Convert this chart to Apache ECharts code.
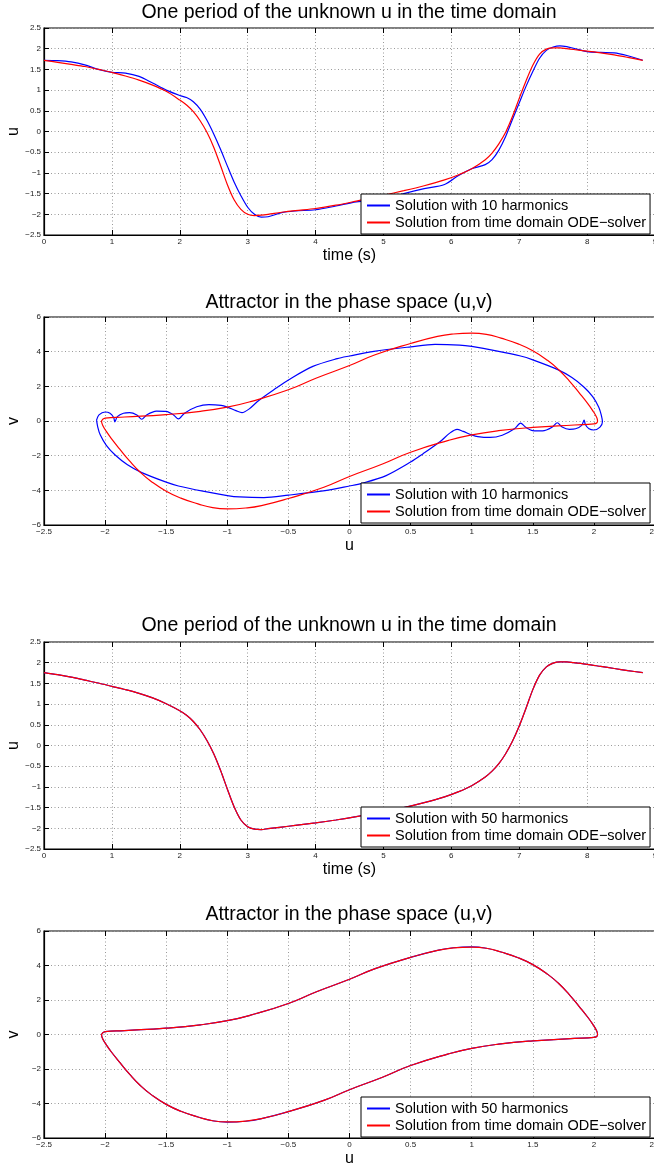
<!DOCTYPE html>
<html>
<head>
<meta charset="utf-8">
<script src="https://cdn.jsdelivr.net/npm/echarts@6/dist/echarts.min.js"></script>
<style>
html,body{margin:0;padding:0;background:#fff;}
#chart{width:654px;height:1167px;}
</style>
</head>
<body>
<div id="chart"></div>
<script>
// ---------------- DATA ----------------
const titleTime = 'One period of the unknown u in the time domain';
const titlePhase = 'Attractor in the phase space (u,v)';
const name10 = 'Solution with 10 harmonics';
const name50 = 'Solution with 50 harmonics';
const nameODE = 'Solution from time domain ODE\u2212solver';

// time samples (s)
const timeS = [0,0.2,0.4,0.6,0.8,1.0,1.2,1.4,1.6,1.8,2.0,2.1,2.2,2.3,2.4,2.5,2.6,2.7,2.8,2.9,3.0,3.1,3.2,3.3,3.5,3.7,4.0,4.3,4.6,5.0,5.3,5.6,5.9,6.1,6.3,6.5,6.6,6.7,6.8,6.9,7.0,7.1,7.2,7.3,7.4,7.5,7.6,7.7,7.8,8.0,8.2,8.4,8.6,8.82];

// panel 1: u(t), 10 harmonics (blue)
const uHarm10 = [1.72,1.71,1.68,1.61,1.50,1.43,1.41,1.33,1.17,1.00,0.87,0.82,0.72,0.54,0.27,-0.06,-0.43,-0.83,-1.22,-1.55,-1.83,-2.00,-2.07,-2.06,-1.96,-1.92,-1.89,-1.80,-1.70,-1.64,-1.50,-1.38,-1.28,-1.07,-0.90,-0.80,-0.68,-0.45,-0.12,0.29,0.69,1.09,1.45,1.77,1.96,2.04,2.07,2.05,2.01,1.93,1.91,1.90,1.83,1.72];
// panel 1: u(t), ODE solver (red)
const uODE1 = [1.72,1.67,1.62,1.57,1.50,1.43,1.34,1.24,1.12,0.97,0.76,0.64,0.48,0.26,-0.02,-0.38,-0.82,-1.28,-1.65,-1.88,-2.00,-2.03,-2.02,-2.00,-1.95,-1.91,-1.86,-1.78,-1.68,-1.54,-1.43,-1.31,-1.17,-1.05,-0.90,-0.68,-0.52,-0.30,-0.02,0.36,0.80,1.22,1.60,1.87,1.99,2.02,2.02,2.00,1.98,1.94,1.90,1.85,1.79,1.72];

// panel 3: u(t), 50 harmonics (blue) and ODE solver (red) - nearly identical
const uHarm50 = [1.76,1.71,1.65,1.58,1.51,1.43,1.35,1.26,1.15,1.01,0.84,0.73,0.58,0.38,0.12,-0.20,-0.60,-1.05,-1.48,-1.80,-1.96,-2.02,-2.03,-2.01,-1.97,-1.93,-1.87,-1.80,-1.72,-1.60,-1.50,-1.38,-1.24,-1.12,-0.97,-0.76,-0.62,-0.44,-0.20,0.10,0.47,0.90,1.35,1.70,1.90,1.99,2.02,2.02,2.00,1.96,1.91,1.86,1.81,1.76];
const uODE3 = [1.76,1.71,1.65,1.58,1.51,1.43,1.35,1.26,1.15,1.01,0.84,0.73,0.58,0.38,0.12,-0.20,-0.60,-1.05,-1.48,-1.80,-1.96,-2.02,-2.03,-2.01,-1.97,-1.93,-1.87,-1.80,-1.72,-1.60,-1.50,-1.38,-1.24,-1.12,-0.97,-0.76,-0.62,-0.44,-0.20,0.10,0.47,0.90,1.35,1.70,1.90,1.99,2.02,2.02,2.00,1.96,1.91,1.86,1.81,1.76];

// panel 2: phase portrait, 10 harmonics (blue)
const phaseU10 = [-2.07,-2.05,-2.00,-1.96,-1.93,-1.92,-1.90,-1.85,-1.80,-1.74,-1.70,-1.66,-1.58,-1.50,-1.44,-1.40,-1.35,-1.25,-1.15,-1.05,-1.00,-0.93,-0.88,-0.82,-0.74,-0.60,-0.50,-0.30,-0.10,0.00,0.20,0.50,0.70,0.90,1.00,1.20,1.40,1.50,1.70,1.82,1.92,1.99,2.04,2.06,
  2.07,2.05,2.00,1.96,1.93,1.92,1.90,1.85,1.80,1.74,1.70,1.66,1.58,1.50,1.44,1.40,1.35,1.25,1.15,1.05,1.00,0.93,0.88,0.82,0.74,0.60,0.50,0.30,0.10,0.00,-0.20,-0.50,-0.70,-0.90,-1.00,-1.20,-1.40,-1.50,-1.70,-1.82,-1.92,-1.99,-2.04,-2.06,-2.07];
const phaseV10 = [0.05,0.35,0.52,0.45,0.20,-0.05,0.25,0.45,0.48,0.35,0.10,0.35,0.57,0.55,0.35,0.12,0.45,0.82,0.95,0.90,0.80,0.60,0.48,0.70,1.20,1.90,2.37,3.15,3.60,3.75,4.02,4.28,4.42,4.38,4.30,4.05,3.75,3.53,2.98,2.51,1.95,1.41,0.80,0.35,
  -0.05,-0.35,-0.52,-0.45,-0.20,0.05,-0.25,-0.45,-0.48,-0.35,-0.10,-0.35,-0.57,-0.55,-0.35,-0.12,-0.45,-0.82,-0.95,-0.90,-0.80,-0.60,-0.48,-0.70,-1.20,-1.90,-2.37,-3.15,-3.60,-3.75,-4.02,-4.28,-4.42,-4.38,-4.30,-4.05,-3.75,-3.53,-2.98,-2.51,-1.95,-1.41,-0.80,-0.35,0.05];

// panels 2 and 4: phase portrait, ODE solver (red)
const phaseUODE = [-2.03,-2.00,-1.84,-1.50,-1.22,-1.00,-0.81,-0.50,-0.27,0.00,0.21,0.50,0.72,0.85,1.00,1.12,1.24,1.38,1.50,1.62,1.71,1.80,1.88,1.95,1.99,2.02,2.03,
  2.00,1.84,1.50,1.22,1.00,0.81,0.50,0.27,0.00,-0.21,-0.50,-0.72,-0.85,-1.00,-1.12,-1.24,-1.38,-1.50,-1.62,-1.71,-1.80,-1.88,-1.95,-1.99,-2.02,-2.03];
const phaseVODE = [0.00,0.17,0.23,0.37,0.56,0.80,1.12,1.80,2.48,3.20,3.82,4.47,4.88,5.02,5.07,5.00,4.78,4.45,4.05,3.50,2.97,2.30,1.62,1.00,0.60,0.25,0.00,
  -0.17,-0.23,-0.37,-0.56,-0.80,-1.12,-1.80,-2.48,-3.20,-3.82,-4.47,-4.88,-5.02,-5.07,-5.00,-4.78,-4.45,-4.05,-3.50,-2.97,-2.30,-1.62,-1.00,-0.60,-0.25,0.00];
// panel 4: phase portrait, 50 harmonics (blue) - overlaps the ODE curve
const phaseU50 = [-2.03,-2.00,-1.84,-1.50,-1.22,-1.00,-0.81,-0.50,-0.27,0.00,0.21,0.50,0.72,0.85,1.00,1.12,1.24,1.38,1.50,1.62,1.71,1.80,1.88,1.95,1.99,2.02,2.03,
  2.00,1.84,1.50,1.22,1.00,0.81,0.50,0.27,0.00,-0.21,-0.50,-0.72,-0.85,-1.00,-1.12,-1.24,-1.38,-1.50,-1.62,-1.71,-1.80,-1.88,-1.95,-1.99,-2.02,-2.03];
const phaseV50 = [0.00,0.17,0.23,0.37,0.56,0.80,1.12,1.80,2.48,3.20,3.82,4.47,4.88,5.03,5.08,5.00,4.78,4.45,4.05,3.50,2.97,2.30,1.62,1.00,0.60,0.25,0.00,
  -0.17,-0.23,-0.37,-0.56,-0.80,-1.12,-1.80,-2.48,-3.20,-3.82,-4.47,-4.88,-5.03,-5.08,-5.00,-4.78,-4.45,-4.05,-3.50,-2.97,-2.30,-1.62,-1.00,-0.60,-0.25,0.00];

// ---------------- LAYOUT / STYLE ----------------
const FONT = "'Liberation Sans', Arial, Helvetica, sans-serif";
const BLUE = '#0000ff', RED = '#ff0000';
const panels = [
  {top: 28,  height: 207, title: titleTime,  titleTop: 3,   xName: 'time (s)', yName: 'u', kind: 'time',  legendTop: 194,  names: [name10, nameODE]},
  {top: 317, height: 208, title: titlePhase, titleTop: 293, xName: 'u',        yName: 'v', kind: 'phase', legendTop: 483,  names: [name10, nameODE]},
  {top: 642, height: 207, title: titleTime,  titleTop: 616, xName: 'time (s)', yName: 'u', kind: 'time',  legendTop: 807,  names: [name50, nameODE]},
  {top: 931, height: 207, title: titlePhase, titleTop: 905, xName: 'u',        yName: 'v', kind: 'phase', legendTop: 1097, names: [name50, nameODE]}
];
const fmt = v => String(+v.toFixed(2)).replace('-', '\u2212');
const pairs = (xs, ys) => xs.map((x, i) => [x, ys[i]]);

const option = {
  animation: false,
  backgroundColor: '#fff',
  title: [], grid: [], xAxis: [], yAxis: [], legend: [], series: []
};

panels.forEach((p, i) => {
  option.title.push({
    text: p.title, left: 349, top: p.titleTop, textAlign: 'center', padding: 0,
    textStyle: {fontFamily: FONT, fontSize: 19.5, fontWeight: 'normal', color: '#000'}
  });
  option.grid.push({
    left: 44, width: 611, top: p.top, height: p.height,
    containLabel: false, outerBoundsMode: 'none',
    show: true, borderColor: '#000', borderWidth: 1.2, backgroundColor: 'transparent'
  });
  const isTime = p.kind === 'time';
  const xr = isTime ? {min: 0, max: 9, interval: 1} : {min: -2.5, max: 2.5, interval: 0.5};
  const yr = isTime ? {min: -2.5, max: 2.5, interval: 0.5} : {min: -6, max: 6, interval: 2};
  const split = {show: true, lineStyle: {color: '#9a9a9a', type: [1, 2.5], width: 1}};
  option.xAxis.push(Object.assign({
    type: 'value', gridIndex: i, position: 'bottom',
    name: p.xName, nameLocation: 'middle', nameGap: 13, nameMoveOverlap: false,
    nameTextStyle: {fontFamily: FONT, fontSize: 16, color: '#000'},
    axisLine: {show: true, onZero: false, lineStyle: {color: '#000', width: 1.2}},
    axisTick: {show: true, inside: true, length: 5, lineStyle: {color: '#000'}},
    axisLabel: {fontFamily: FONT, fontSize: 8, color: '#222', margin: 3, formatter: fmt},
    splitLine: split
  }, xr));
  // mirrored top axis (ticks only)
  option.xAxis.push(Object.assign({
    type: 'value', gridIndex: i, position: 'top',
    axisLine: {show: false, onZero: false}, axisLabel: {show: false}, splitLine: {show: false},
    axisTick: {show: true, inside: true, length: 5, lineStyle: {color: '#000'}}
  }, xr));
  option.yAxis.push(Object.assign({
    type: 'value', gridIndex: i, position: 'left',
    name: p.yName, nameLocation: 'middle', nameGap: 22, nameRotate: 90, nameMoveOverlap: false,
    nameTextStyle: {fontFamily: FONT, fontSize: 16, color: '#000'},
    axisLine: {show: true, onZero: false, lineStyle: {color: '#000', width: 1.2}},
    axisTick: {show: true, inside: true, length: 5, lineStyle: {color: '#000'}},
    axisLabel: {fontFamily: FONT, fontSize: 8, color: '#222', margin: 3, formatter: fmt},
    splitLine: split
  }, yr));
  option.legend.push({
    data: p.names, left: 361, top: p.legendTop, orient: 'vertical',
    backgroundColor: '#fff', borderColor: '#000', borderWidth: 1,
    padding: [3, 4, 3, 6], itemGap: 0, itemWidth: 23, itemHeight: 2, icon: 'rect',
    selectedMode: false,
    textStyle: {fontFamily: FONT, fontSize: 14.5, color: '#000', lineHeight: 17}
  });
});

const lineSeries = (name, data, color, gi, smooth) => ({
  type: 'line', name, data, xAxisIndex: gi * 2, yAxisIndex: gi,
  showSymbol: false, symbol: 'none', smooth, clip: true,
  lineStyle: {color, width: 1.2}, itemStyle: {color}
});

option.series.push(lineSeries(name10, pairs(timeS, uHarm10), BLUE, 0, 0.3));
option.series.push(lineSeries(nameODE, pairs(timeS, uODE1), RED, 0, 0.3));
option.series.push(lineSeries(name10, pairs(phaseU10, phaseV10), BLUE, 1, 0.3));
option.series.push(lineSeries(nameODE, pairs(phaseUODE, phaseVODE), RED, 1, 0.5));
option.series.push(lineSeries(name50, pairs(timeS, uHarm50), BLUE, 2, 0.3));
option.series.push(lineSeries(nameODE, pairs(timeS, uODE3), RED, 2, 0.3));
option.series.push(lineSeries(name50, pairs(phaseU50, phaseV50), BLUE, 3, 0.5));
option.series.push(lineSeries(nameODE, pairs(phaseUODE, phaseVODE), RED, 3, 0.5));

const chart = echarts.init(document.getElementById('chart'), null, {renderer: 'canvas'});
chart.setOption(option);
</script>
</body>
</html>
